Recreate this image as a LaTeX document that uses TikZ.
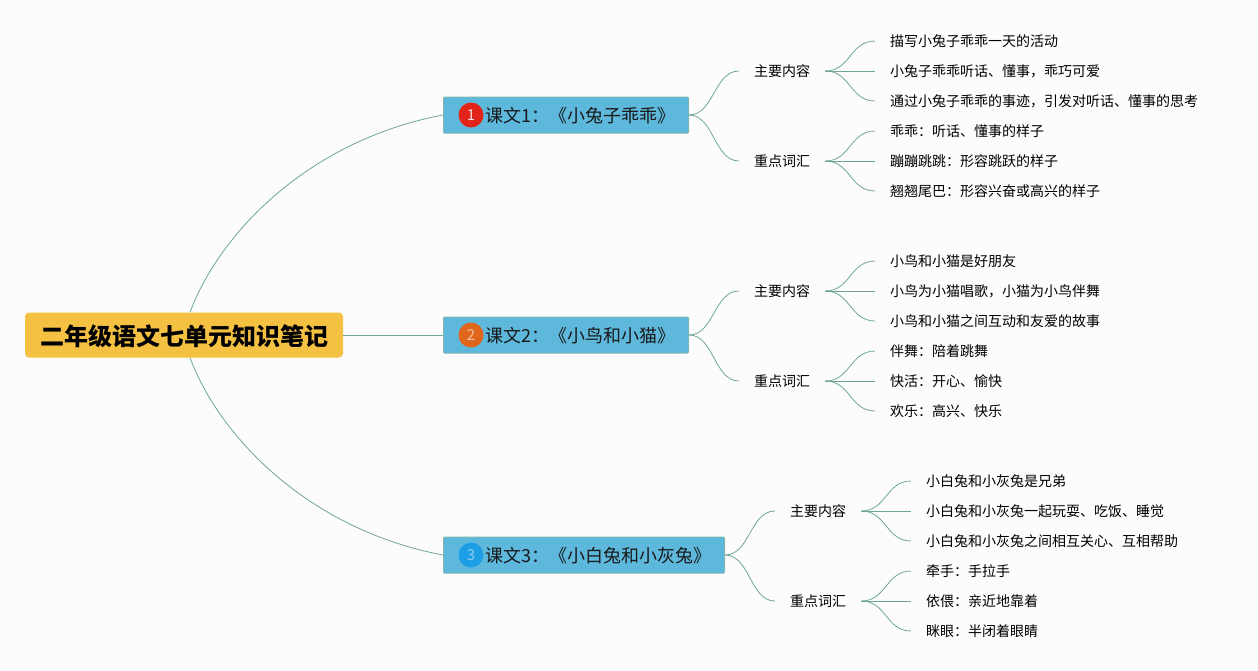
\documentclass[tikz,border=0pt]{standalone}
\usepackage{fontspec}
\setmainfont{Noto Sans CJK SC}
\definecolor{bgc}{HTML}{FCFCFC}
\definecolor{rootc}{HTML}{F5C143}
\definecolor{branchc}{HTML}{5DB8DC}
\definecolor{branchb}{HTML}{7DB6B4}
\definecolor{linec}{HTML}{6FA598}
\definecolor{ired}{HTML}{E2231A}
\definecolor{iorange}{HTML}{E0661E}
\definecolor{iblue}{HTML}{1E9FE5}
\newcommand{\fs}[1]{\fontsize{#1}{#1}\selectfont}
\tikzset{
  x=1pt,y=-1pt,
  rootbox/.style={draw=none,fill=rootc,rounded corners=4pt,minimum width=318pt,minimum height=45pt,inner sep=0pt,font=\fs{24}\bfseries,text=black,text height=25.24pt,text depth=4pt},
  branchbox/.style={draw=branchb,line width=1pt,fill=branchc,rounded corners=1pt,minimum height=36pt,inner sep=0pt,anchor=west,font=\fs{18},text=black!90,align=left,text height=18.68pt,text depth=4pt},
  badge/.style={circle,minimum size=25pt,inner sep=0pt,font=\fs{15}},
  subbox/.style={minimum width=86pt,minimum height=20pt,inner sep=0pt,anchor=west,font=\fs{14},text=black,text height=14.24pt,text depth=3pt},
  leafbox/.style={minimum height=20pt,inner xsep=15pt,inner ysep=0pt,anchor=west,font=\fs{14},text=black,text height=14.24pt,text depth=3pt},
  conn/.style={draw=linec,line width=0.8pt},
}
\newcommand{\scurve}[2]{\draw[conn] (#1.east) .. controls ([xshift=25pt]#1.east) and ([xshift=-25pt]#2.west) .. (#2.west);}
\begin{document}
\begin{tikzpicture}
\fill[bgc] (0,0) rectangle (1258,670);
\useasboundingbox (0,0) rectangle (1258,670);
% root
\node[rootbox] (root) at (184,335) {二年级语文七单元知识笔记};
% branches
\node[branchbox,text width=245pt] (b1) at (443,115) {\hspace*{42pt}课文1：《小兔子乖乖》};
\node[branchbox,text width=245pt] (b2) at (443,335) {\hspace*{42pt}课文2：《小鸟和小猫》};
\node[branchbox,text width=281pt] (b3) at (443,555) {\hspace*{42pt}课文3：《小白兔和小灰兔》};
\node[badge,fill=ired,text=white!85!ired] (i1) at (471,115) {1};
\node[badge,fill=iorange,text=white!60!iorange] (i2) at (471,335) {2};
\node[badge,fill=iblue,text=white!50!iblue] (i3) at (471,555) {3};
% root connectors
\draw[conn] ([xshift=6pt]root.north) .. controls (220,232) and (310,140) .. (b1.west);
\draw[conn] (root.east) -- (b2.west);
\draw[conn] ([xshift=6pt]root.south) .. controls (220,438) and (310,530) .. (b3.west);
% sub nodes
\node[subbox] (s11) at (739,71) {主要内容};
\node[subbox] (s12) at (739,161) {重点词汇};
\node[subbox] (s21) at (739,291) {主要内容};
\node[subbox] (s22) at (739,381) {重点词汇};
\node[subbox] (s31) at (775,511) {主要内容};
\node[subbox] (s32) at (775,601) {重点词汇};
% leaves
\node[leafbox] (l1) at (875,41) {描写小兔子乖乖一天的活动};
\node[leafbox] (l2) at (875,71) {小兔子乖乖听话、懂事，乖巧可爱};
\node[leafbox] (l3) at (875,101) {通过小兔子乖乖的事迹，引发对听话、懂事的思考};
\node[leafbox] (l4) at (875,131) {乖乖：听话、懂事的样子};
\node[leafbox] (l5) at (875,161) {蹦蹦跳跳：形容跳跃的样子};
\node[leafbox] (l6) at (875,191) {翘翘尾巴：形容兴奋或高兴的样子};
\node[leafbox] (m1) at (875,261) {小鸟和小猫是好朋友};
\node[leafbox] (m2) at (875,291) {小鸟为小猫唱歌，小猫为小鸟伴舞};
\node[leafbox] (m3) at (875,321) {小鸟和小猫之间互动和友爱的故事};
\node[leafbox] (m4) at (875,351) {伴舞：陪着跳舞};
\node[leafbox] (m5) at (875,381) {快活：开心、愉快};
\node[leafbox] (m6) at (875,411) {欢乐：高兴、快乐};
\node[leafbox] (n1) at (911,481) {小白兔和小灰兔是兄弟};
\node[leafbox] (n2) at (911,511) {小白兔和小灰兔一起玩耍、吃饭、睡觉};
\node[leafbox] (n3) at (911,541) {小白兔和小灰兔之间相互关心、互相帮助};
\node[leafbox] (n4) at (911,571) {牵手：手拉手};
\node[leafbox] (n5) at (911,601) {依偎：亲近地靠着};
\node[leafbox] (n6) at (911,631) {眯眼：半闭着眼睛};
% connectors
\scurve{b1}{s11}\scurve{b1}{s12}
\scurve{b2}{s21}\scurve{b2}{s22}
\scurve{b3}{s31}\scurve{b3}{s32}
\scurve{s11}{l1}\scurve{s11}{l2}\scurve{s11}{l3}
\scurve{s12}{l4}\scurve{s12}{l5}\scurve{s12}{l6}
\scurve{s21}{m1}\scurve{s21}{m2}\scurve{s21}{m3}
\scurve{s22}{m4}\scurve{s22}{m5}\scurve{s22}{m6}
\scurve{s31}{n1}\scurve{s31}{n2}\scurve{s31}{n3}
\scurve{s32}{n4}\scurve{s32}{n5}\scurve{s32}{n6}
\end{tikzpicture}
\end{document}
